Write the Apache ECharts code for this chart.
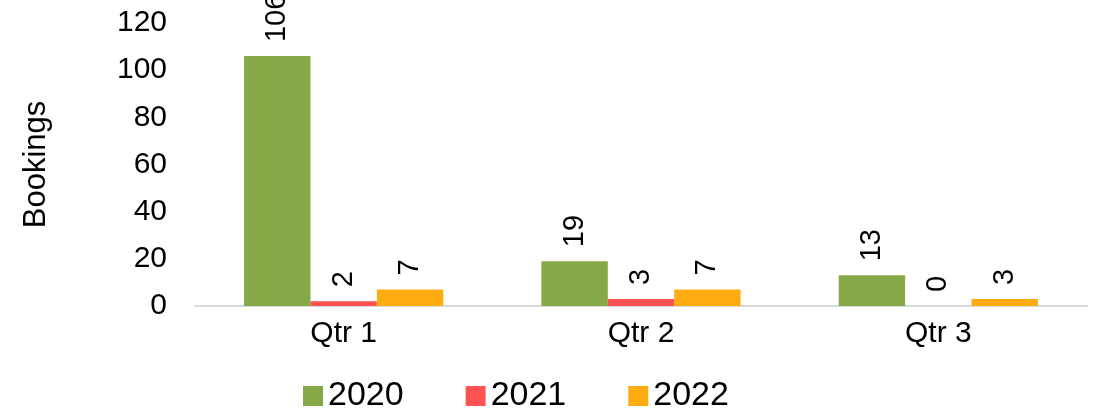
<!DOCTYPE html>
<html><head><meta charset="utf-8">
<script src="https://cdn.jsdelivr.net/npm/echarts@6/dist/echarts.min.js"></script>
<style>html,body{margin:0;padding:0;background:#fff}#c{width:1094px;height:415px}</style>
</head><body><div id="c"></div>
<script>
const categories = ['Qtr 1', 'Qtr 2', 'Qtr 3'];
const seriesNames = ['2020', '2021', '2022'];
const values2020 = [106, 19, 13];
const values2021 = [2, 3, 0];
const values2022 = [7, 7, 3];
const colors = ['#86A846', '#FF5252', '#FFAC12'];
const font = '"Liberation Sans", Arial, sans-serif';

const data = [values2020, values2021, values2022];
const chart = echarts.init(document.getElementById('c'));
chart.setOption({
  animation: false,
  textStyle: { fontFamily: font },
  grid: { left: 195, right: 7, top: 23, bottom: 109, containLabel: false },
  legend: {
    bottom: -3, left: 298, itemWidth: 20, itemHeight: 20, itemGap: 62,
    icon: 'rect',
    textStyle: { fontSize: 34, color: '#000', fontFamily: font },
    data: seriesNames
  },
  xAxis: {
    type: 'category', data: categories,
    axisLine: { lineStyle: { color: '#D9D9D9', width: 2 } },
    axisTick: { show: false },
    axisLabel: { fontSize: 30, color: '#000', margin: 13, fontFamily: font }
  },
  yAxis: {
    type: 'value', min: 0, max: 120, interval: 20,
    name: 'Bookings', nameLocation: 'middle', nameGap: 143, nameRotate: 90,
    nameTextStyle: { fontSize: 31, color: '#000', fontFamily: font },
    axisLine: { show: false }, axisTick: { show: false }, splitLine: { show: false },
    axisLabel: { fontSize: 30, color: '#000', margin: 28, fontFamily: font }
  },
  series: seriesNames.map((n, i) => ({
    name: n, type: 'bar', data: data[i], barGap: '0%', barCategoryGap: '33%',
    itemStyle: { color: colors[i] },
    label: {
      show: true, position: 'top', rotate: 90, align: 'left', verticalAlign: 'middle',
      distance: 14, fontSize: 29, color: '#000', fontFamily: font
    }
  }))
});
</script></body></html>
